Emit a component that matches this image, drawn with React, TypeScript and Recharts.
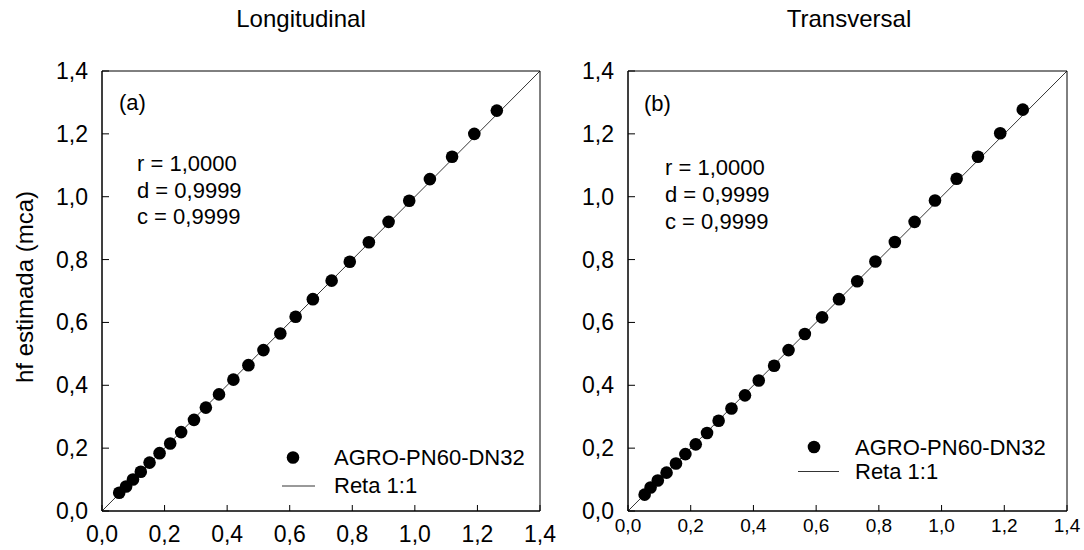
import { ScatterChart, Scatter, XAxis, YAxis, ReferenceLine, ReferenceArea, Legend } from "recharts";

// observed hf (x) and estimated hf (y), panel (a) longitudinal
const obsLong = [0.055, 0.077, 0.099, 0.124, 0.152, 0.184, 0.218, 0.253, 0.294, 0.332, 0.374, 0.42, 0.468, 0.516, 0.57, 0.619, 0.674, 0.734, 0.792, 0.853, 0.916, 0.982, 1.048, 1.119, 1.19, 1.262];
const estLong = [0.058, 0.078, 0.1, 0.125, 0.154, 0.184, 0.215, 0.251, 0.29, 0.329, 0.371, 0.418, 0.464, 0.512, 0.565, 0.618, 0.674, 0.733, 0.793, 0.855, 0.92, 0.987, 1.056, 1.127, 1.2, 1.274];

// panel (b) transversal
const obsTrans = [0.053, 0.072, 0.095, 0.123, 0.153, 0.183, 0.216, 0.252, 0.289, 0.33, 0.373, 0.417, 0.466, 0.512, 0.564, 0.619, 0.673, 0.731, 0.789, 0.851, 0.914, 0.979, 1.048, 1.116, 1.187, 1.259];
const estTrans = [0.052, 0.075, 0.097, 0.122, 0.151, 0.181, 0.212, 0.248, 0.287, 0.326, 0.368, 0.415, 0.462, 0.512, 0.563, 0.616, 0.674, 0.731, 0.794, 0.856, 0.92, 0.988, 1.057, 1.127, 1.202, 1.277];

const ticks = [0, 0.2, 0.4, 0.6, 0.8, 1.0, 1.2, 1.4];
const stats = ["r = 1,0000", "d = 0,9999", "c = 0,9999"];
const seriesName = "AGRO-PN60-DN32";
const lineName = "Reta 1:1";

const FONT = "'Liberation Sans', Arial, sans-serif";
const fmt = (v: number) => v.toFixed(1).replace(".", ",");

const toPoints = (xs: number[], ys: number[]) => xs.map((x, i) => ({ x, y: ys[i] }));

const XTick = ({ x, y, payload, fs, dy }: any) => (
  <g>
    <line x1={x} x2={x} y1={y} y2={y - 6} stroke="#000" strokeWidth={1} />
    <text x={x} y={y + dy} textAnchor="middle" fontSize={fs} fill="#000" fontFamily={FONT}>
      {fmt(payload.value)}
    </text>
  </g>
);

const YTick = ({ x, y, payload }: any) => (
  <g>
    <line x1={x} x2={x + 7} y1={y} y2={y} stroke="#000" strokeWidth={1} />
    <text x={x - 14} y={y} dy="0.35em" textAnchor="end" fontSize={23} fill="#000" fontFamily={FONT}>
      {fmt(payload.value)}
    </text>
  </g>
);

const Dot = (props: any) => <circle cx={props.cx} cy={props.cy} r={6.3} fill="#000" />;

const legendContent = (cfg: any) => () => (
  <svg width={270} height={75} style={{ display: "block" }}>
    <circle cx={cfg.dotX} cy={cfg.dotY} r={6.3} fill="#000" />
    <text x={cfg.textX} y={cfg.t1} fontSize={22} fontFamily={FONT} fill="#000">{seriesName}</text>
    <line x1={cfg.lx1} x2={cfg.lx2} y1={cfg.ly} y2={cfg.ly} stroke="#000" strokeWidth={0.8} />
    <text x={cfg.textX} y={cfg.t2} fontSize={22} fontFamily={FONT} fill="#000">{lineName}</text>
  </svg>
);

const Panel = ({ data, width, margin, xFont, xDy, legendPos, legendCfg }: any) => (
  <ScatterChart width={width} height={550} margin={margin}>
    <XAxis
      type="number"
      dataKey="x"
      domain={[0, 1.4]}
      ticks={ticks}
      height={30}
      tickSize={0}
      tickMargin={0}
      tickLine={false}
      axisLine={{ stroke: "#000" }}
      tick={<XTick fs={xFont} dy={xDy} />}
      interval={0}
    />
    <YAxis
      type="number"
      dataKey="y"
      domain={[0, 1.4]}
      ticks={ticks}
      width={60}
      tickSize={0}
      tickMargin={0}
      tickLine={false}
      axisLine={{ stroke: "#000" }}
      tick={<YTick />}
      interval={0}
    />
    <ReferenceArea x1={0} x2={1.4} y1={0} y2={1.4} fill="none" stroke="#000" strokeWidth={1} ifOverflow="visible" />
    <ReferenceLine segment={[{ x: 0, y: 0 }, { x: 1.4, y: 1.4 }]} stroke="#000" strokeWidth={0.8} ifOverflow="visible" />
    <Scatter data={data} fill="#000" shape={<Dot />} isAnimationActive={false} />
    <Legend
      layout="horizontal"
      verticalAlign="middle"
      align="center"
      wrapperStyle={{ left: legendPos.left, top: legendPos.top, width: 270, height: 75 }}
      content={legendContent(legendCfg)}
    />
  </ScatterChart>
);

export default function App() {
  return (
    <div style={{ position: "absolute", left: 0, top: 0, width: 1084, height: 550, background: "#fff", fontFamily: FONT }}>
      <div style={{ position: "absolute", left: 0, top: 0 }}>
        <Panel
          data={toPoints(obsLong, estLong)}
          width={565}
          margin={{ top: 71, right: 25, bottom: 9, left: 42 }}
          xFont={23}
          xDy={31}
          legendPos={{ left: 270, top: 430 }}
          legendCfg={{ dotX: 23, dotY: 27.5, textX: 64, t1: 35, lx1: 12, lx2: 45, ly: 56, t2: 63 }}
        />
      </div>
      <div style={{ position: "absolute", left: 545, top: 0 }}>
        <Panel
          data={toPoints(obsTrans, estTrans)}
          width={539}
          margin={{ top: 71, right: 17, bottom: 9, left: 23 }}
          xFont={19}
          xDy={21}
          legendPos={{ left: 250, top: 425 }}
          legendCfg={{ dotX: 19, dotY: 22, textX: 60, t1: 30, lx1: 3, lx2: 44, ly: 46.5, t2: 54 }}
        />
      </div>
      <svg width={1084} height={550} style={{ position: "absolute", left: 0, top: 0, pointerEvents: "none" }}>
        <g fontFamily={FONT} fill="#000">
          <text x={301} y={27} fontSize={24} textAnchor="middle">Longitudinal</text>
          <text x={849} y={27} fontSize={24} textAnchor="middle">Transversal</text>
          <text x={33} y={287} fontSize={24} textAnchor="middle" transform="rotate(-90, 33, 287)">hf estimada (mca)</text>
          <text x={119} y={110} fontSize={22}>(a)</text>
          {stats.map((s, i) => (
            <text key={"a" + i} x={137} y={171 + i * 26.5} fontSize={22}>{s}</text>
          ))}
          <text x={644} y={111} fontSize={22}>(b)</text>
          {stats.map((s, i) => (
            <text key={"b" + i} x={665} y={175 + i * 27} fontSize={22}>{s}</text>
          ))}
        </g>
      </svg>
    </div>
  );
}
